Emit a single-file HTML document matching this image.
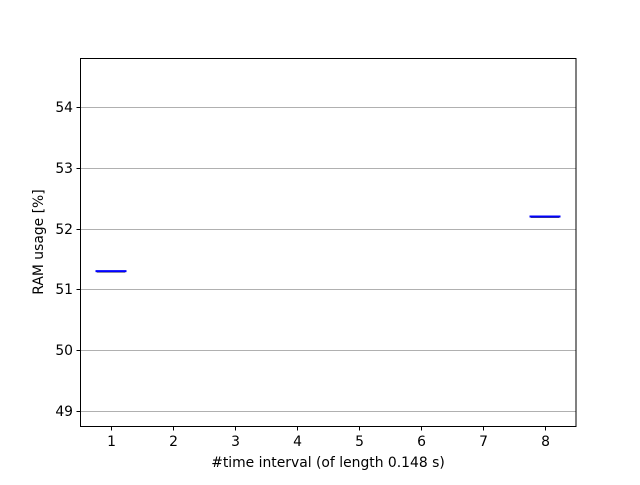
<!DOCTYPE html>
<html><head><meta charset="utf-8"><style>
body{margin:0;background:#fff;}
text{font-family:"DejaVu Sans","Liberation Sans",sans-serif;font-size:13.9px;fill:#000;}
</style></head><body>
<svg id="chart" width="640" height="480">
<rect x="0" y="0" width="640" height="480" fill="#fff"/>
<g id="grid"></g><g id="marks"></g><g id="axes"></g>
<rect x="80.5" y="58.5" width="495.5" height="368" fill="none" stroke="#000" stroke-width="1"/>
<text x="328" y="467" text-anchor="middle">#time interval (of length 0.148 s)</text>
<text transform="translate(43,242) rotate(-90)" text-anchor="middle">RAM usage [%]</text>
</svg>
<script>
const categories=[1,8];
const values=[51.3,52.2];
const xTicks=[1,2,3,4,5,6,7,8];
const yTicks=[49,50,51,52,53,54];
const L=80,R=576,T=58,B=427,xmin=0.5,xmax=8.5,ymin=48.737,ymax=54.806;
const xs=v=>L+(v-xmin)/(xmax-xmin)*(R-L);
const ys=v=>B-(v-ymin)/(ymax-ymin)*(B-T);
const NS='http://www.w3.org/2000/svg';
function mk(t,a,p){const e=document.createElementNS(NS,t);for(const k in a)e.setAttribute(k,a[k]);p.appendChild(e);return e;}
const grid=document.getElementById('grid'),axes=document.getElementById('axes'),marks=document.getElementById('marks');
yTicks.forEach(v=>{const y=Math.round(ys(v))+0.5;
const g=mk('line',{x1:L,x2:R,y1:y,y2:y,stroke:'#b0b0b0','stroke-width':1},grid);


const tk=mk('line',{x1:L-3.5,x2:L,y1:y,y2:y,stroke:'#000'},axes);


const t=mk('text',{x:L-7,y:y+4.5,'text-anchor':'end'},axes);t.textContent=v;

});
xTicks.forEach(v=>{const x=Math.round(xs(v))+0.5;
const tk=mk('line',{x1:x,x2:x,y1:B,y2:B+3.5,stroke:'#000'},axes);


const t=mk('text',{x:x,y:B+19,'text-anchor':'middle'},axes);t.textContent=v;

});
categories.forEach((c,i)=>{const y=ys(values[i]);
const sh=mk('line',{x1:xs(c-0.23),x2:xs(c+0.23),y1:y+1,y2:y+1,stroke:'#555','stroke-width':1},marks);


const m=mk('line',{x1:xs(c-0.25),x2:xs(c+0.25),y1:y,y2:y,stroke:'#0000ff','stroke-width':2},marks);

});
</script>
</body></html>
